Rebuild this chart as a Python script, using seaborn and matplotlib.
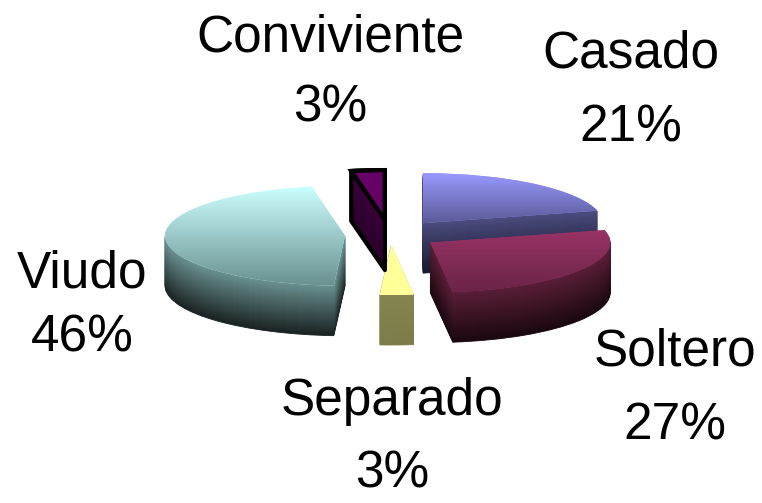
import numpy as np
import matplotlib
matplotlib.use("Agg")
import matplotlib.pyplot as plt
import seaborn as sns
from matplotlib.colors import to_rgb, LinearSegmentedColormap
from matplotlib.patches import Polygon

sns.set_theme(style="white")
plt.rcParams['font.family'] = ['Liberation Sans', 'DejaVu Sans']

# data (clockwise from 12 o'clock)
labels = ["Casado", "Soltero", "Separado", "Viudo", "Conviviente"]
values = [21, 27, 3, 46, 3]

# colours: top face gradient (light -> dark) and side gradient (upper -> lower)
top_light = ["#9999FF", "#993366", "#FFFF99", "#CCFFFF", "#660066"]
top_dark = ["#5A5A98", "#6A2446", "#FFFF99", "#6A9090", "#660066"]
side_light = ["#4C4C80", "#5A1E38", "#858550", "#6A9090", "#3A003A"]
side_dark = ["#18182C", "#1A0810", "#7C7C4A", "#1A2222", "#2A002A"]
explode = [0.3, 0.27, 0.2, 0.25, 0.3]

# label anchors in pixels (x centre, name baseline, pct baseline)
label_pos = {
    "Casado": (631, 67, 142),
    "Soltero": (675, 365, 440),
    "Separado": (392, 415, 488),
    "Viudo": (82, 287, 352),
    "Conviviente": (330, 52, 122),
}

W, H = 762, 503
fig = plt.figure(figsize=(W / 100, H / 100), dpi=100)
ax = fig.add_axes([0, 0, 1, 1])


def mix(a, b, t):
    a, b = np.array(to_rgb(a)), np.array(to_rgb(b))
    return tuple(a * (1 - t) + b * t)


# extruded sides, drawn as stacked pie layers from bottom to top
depth = 1.0
n_layers = 50
for k in range(n_layers, 0, -1):
    t = k / n_layers
    cols = [mix(side_light[i], side_dark[i], t) for i in range(len(values))]
    ax.pie(values, explode=explode, startangle=90, counterclock=False,
           colors=cols, center=(0, -depth * t),
           wedgeprops=dict(linewidth=0.6, edgecolor=None))
    for w, c in zip(ax.patches[-len(values):], cols):
        w.set_edgecolor(c)

# bottom layer kept for the outline of Conviviente
bottom = ax.patches[:len(values)]

# top faces
top, _ = ax.pie(values, explode=explode, startangle=90, counterclock=False,
                colors=top_light, wedgeprops=dict(linewidth=0))
grad = np.linspace(0, 1, 256).reshape(-1, 1)
for i, w in enumerate(top):
    w.set_zorder(3)
    ext = w.get_path().get_extents()
    cmap = LinearSegmentedColormap.from_list("g%d" % i, [top_dark[i], top_light[i]])
    im = ax.imshow(grad, cmap=cmap, origin="lower", aspect="auto",
                   extent=(ext.x0, ext.x1, ext.y0, ext.y1), zorder=3.2)
    im.set_clip_path(w)

# black outline around Conviviente (silhouette + top face)
ci = labels.index("Conviviente")
pts = np.vstack([top[ci].get_path().vertices,
                 bottom[ci].get_path().vertices])


def hull(p):
    p = sorted(set(map(tuple, np.round(p, 6))))
    def cross(o, a, b):
        return (a[0] - o[0]) * (b[1] - o[1]) - (a[1] - o[1]) * (b[0] - o[0])
    lo, up = [], []
    for q in p:
        while len(lo) >= 2 and cross(lo[-2], lo[-1], q) <= 0:
            lo.pop()
        lo.append(q)
    for q in reversed(p):
        while len(up) >= 2 and cross(up[-2], up[-1], q) <= 0:
            up.pop()
        up.append(q)
    return np.array(lo[:-1] + up[:-1])


ax.add_patch(Polygon(hull(pts), closed=True, fill=False, edgecolor="black",
                     linewidth=3, joinstyle="round", zorder=4))
top[ci].set_edgecolor("black")
top[ci].set_linewidth(3)
top[ci].set_zorder(3.5)
top[ci].set_fill(False)

ax.set_aspect("auto")
ax.set_xlim(-390 / 180, (W - 390) / 180)
ax.set_ylim(-(H - 235) / 50, 235 / 50)
ax.axis("off")

for name, v in zip(labels, values):
    x, y1, y2 = label_pos[name]
    fig.text(x / W, 1 - y1 / H, name, ha="center", va="baseline",
             fontsize=37, color="black")
    fig.text(x / W, 1 - y2 / H, f"{v}%", ha="center", va="baseline",
             fontsize=37, color="black")

fig.savefig("out.png", dpi=100, facecolor="white")
